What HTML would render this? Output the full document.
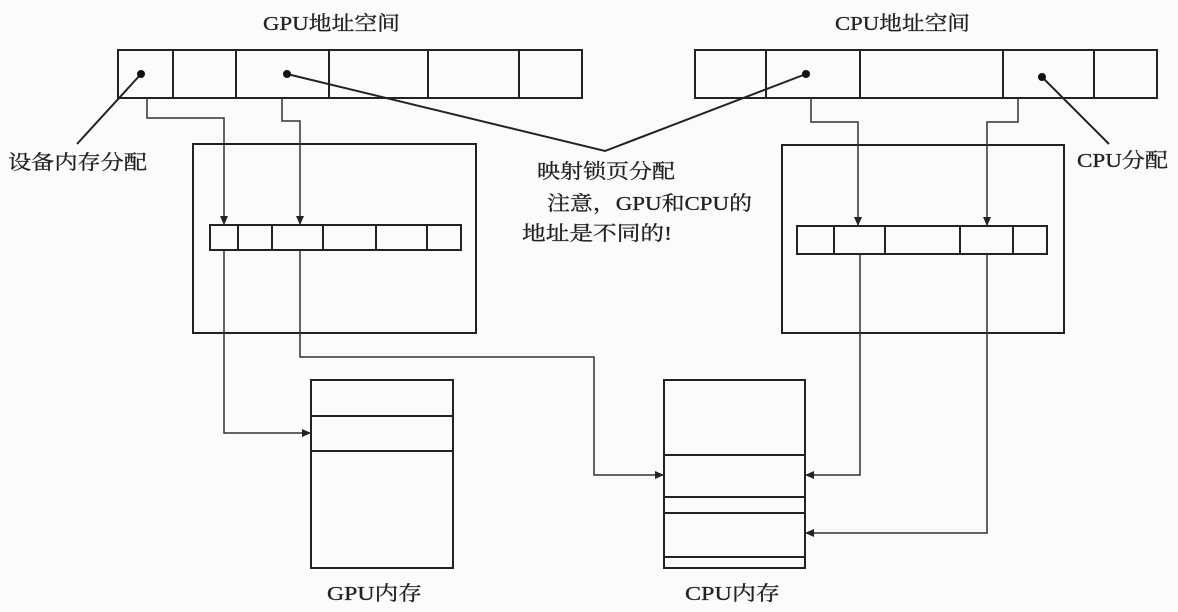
<!DOCTYPE html>
<html><head><meta charset="utf-8"><style>
html,body{margin:0;padding:0;background:#fbfbfb;}
svg{display:block}
text{font-family:"Liberation Serif","Noto Serif CJK SC",serif;fill:#222;font-size:20px;stroke:#222;stroke-width:0.3;}
</style></head><body>
<svg width="1178" height="612" viewBox="0 0 1178 612" xmlns="http://www.w3.org/2000/svg">
<defs><marker id="a" markerWidth="10" markerHeight="10" refX="8" refY="4" orient="auto" markerUnits="userSpaceOnUse"><path d="M0,0 L9,4 L0,8 z" fill="#222"/></marker></defs>
<g fill="none" stroke="#222" stroke-width="2">
<rect x="118" y="50" width="464" height="48"/>
<path d="M173 50V98M236 50V98M329 50V98M428 50V98M519 50V98"/>
<rect x="695" y="50" width="462" height="48"/>
<path d="M766 50V98M860 50V98M1003 50V98M1094 50V98"/>
<rect x="193" y="144" width="283" height="189"/>
<rect x="210" y="225" width="251" height="25"/>
<path d="M238 225V250M272 225V250M323 225V250M376 225V250M427 225V250"/>
<rect x="782" y="145" width="282" height="188"/>
<rect x="797" y="226" width="250" height="28"/>
<path d="M834 226V254M885 226V254M960 226V254M1013 226V254"/>
<rect x="311" y="380" width="142" height="188"/>
<path d="M311 416H453M311 451H453"/>
<rect x="664" y="380" width="141" height="188"/>
<path d="M664 455H805M664 497H805M664 513H805M664 557H805"/>
</g>
<g fill="none" stroke="#333" stroke-width="1.5">
<path d="M147 98V118H224V224" marker-end="url(#a)"/>
<path d="M282 98V121H300V224" marker-end="url(#a)"/>
<path d="M811 98V122H858V225" marker-end="url(#a)"/>
<path d="M1018 98V122H987V225" marker-end="url(#a)"/>
<path d="M224 250V433H310" marker-end="url(#a)"/>
<path d="M300 250V357H594V475H663" marker-end="url(#a)"/>
<path d="M860 254V475H806" marker-end="url(#a)"/>
<path d="M987 254V533H806" marker-end="url(#a)"/>
</g>
<g fill="none" stroke="#222" stroke-width="2">
<path d="M141 74L77 144"/>
<path d="M287 74L605 151L806 74"/>
<path d="M1042 77L1109 144"/>
</g>
<g fill="#111"><circle cx="141" cy="74" r="4"/><circle cx="287" cy="74" r="4"/><circle cx="806" cy="74" r="4"/><circle cx="1042" cy="77" r="4"/></g>
<text x="263" y="30" textLength="137" lengthAdjust="spacingAndGlyphs">GPU地址空间</text>
<text x="835" y="30" textLength="135" lengthAdjust="spacingAndGlyphs">CPU地址空间</text>
<text x="8" y="169" textLength="139" lengthAdjust="spacingAndGlyphs">设备内存分配</text>
<text x="1077" y="167" textLength="91" lengthAdjust="spacingAndGlyphs">CPU分配</text>
<text x="537" y="178" textLength="138" lengthAdjust="spacingAndGlyphs">映射锁页分配</text>
<text x="547" y="210" textLength="205" lengthAdjust="spacingAndGlyphs">注意，GPU和CPU的</text>
<text x="522" y="240" textLength="150" lengthAdjust="spacingAndGlyphs">地址是不同的!</text>
<text x="327" y="600" textLength="95" lengthAdjust="spacingAndGlyphs">GPU内存</text>
<text x="685" y="600" textLength="95" lengthAdjust="spacingAndGlyphs">CPU内存</text>
</svg>
</body></html>
